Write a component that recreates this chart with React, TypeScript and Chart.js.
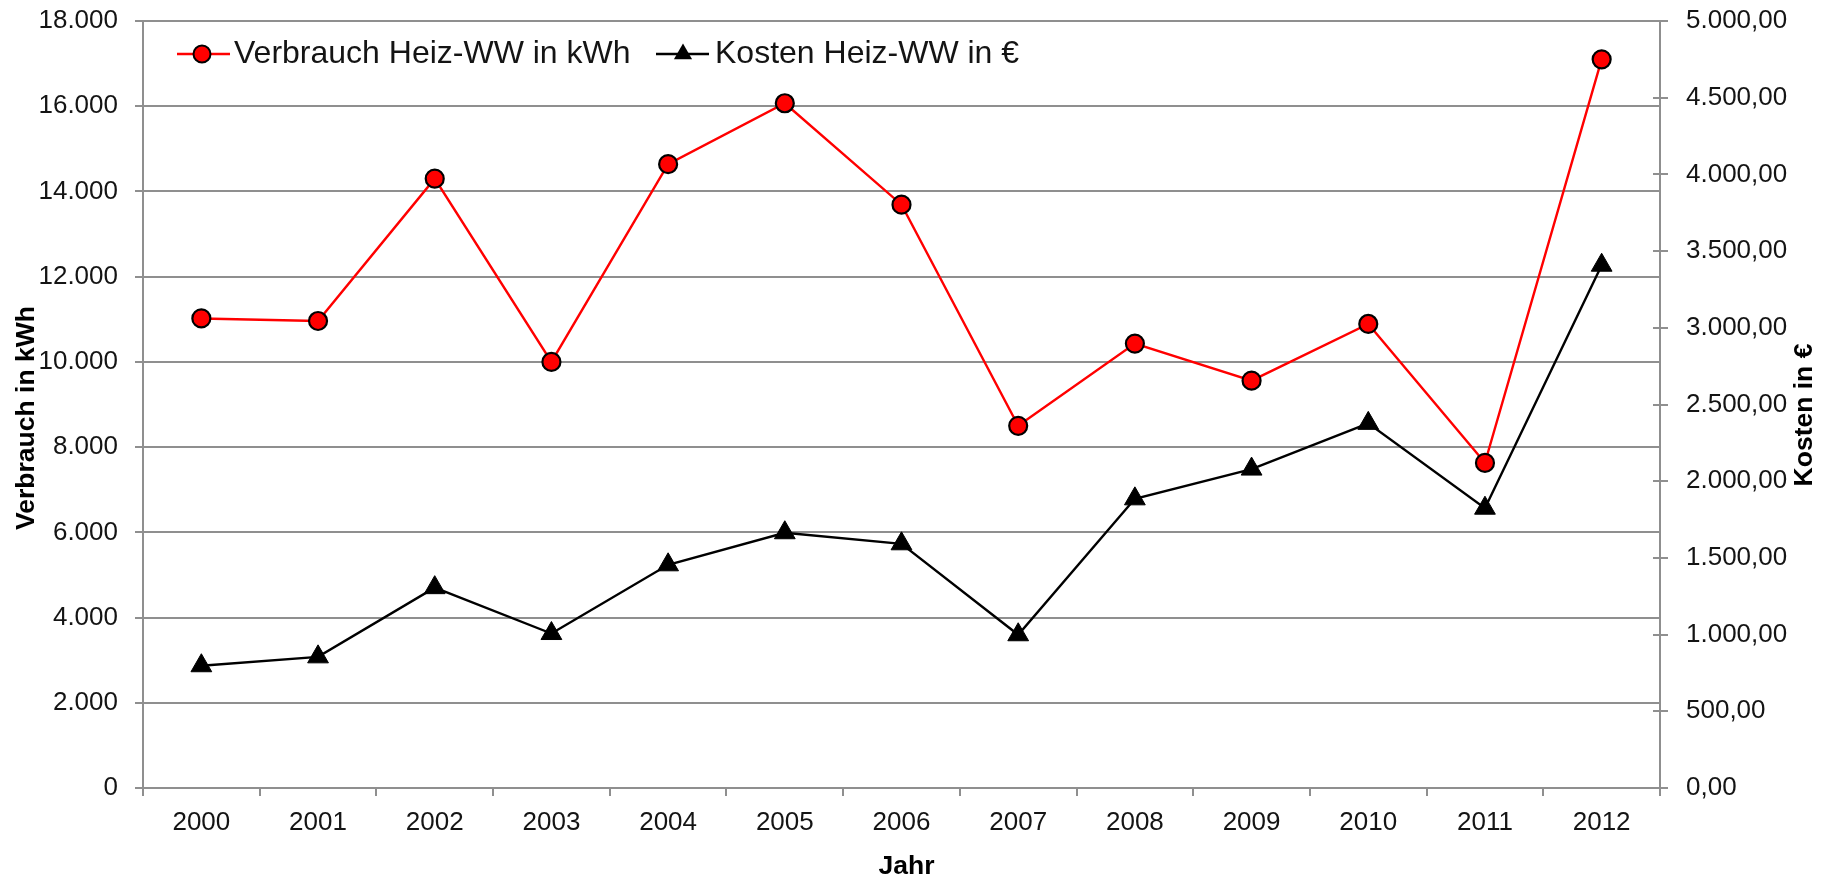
import React, { useEffect, useRef } from "react";
import { Chart, registerables } from "chart.js";

Chart.register(...registerables);

const years = ["2000", "2001", "2002", "2003", "2004", "2005", "2006", "2007", "2008", "2009", "2010", "2011", "2012"];
const verbrauchKWh = [11020, 10960, 14300, 10000, 14640, 16070, 13690, 8500, 10430, 9560, 10890, 7630, 17100];
const kostenEuro = [797, 855, 1306, 1007, 1455, 1664, 1592, 999, 1885, 2079, 2377, 1824, 3408];

const seriesLabels = ["Verbrauch Heiz-WW in kWh", "Kosten Heiz-WW in €"];
const axisTitles = { x: "Jahr", left: "Verbrauch in kWh", right: "Kosten in €" };

const FONT = "'Liberation Sans', Arial, sans-serif";
const GRID = "#8f8f8f";
const TEXT = "#141414";
const TICK_SIZE = 26;

const fmtLeft = (v: number) => new Intl.NumberFormat("de-DE", { maximumFractionDigits: 0 }).format(v);
const fmtRight = (v: number) =>
  new Intl.NumberFormat("de-DE", { minimumFractionDigits: 2, maximumFractionDigits: 2 }).format(v);

const overlayPlugin = {
  id: "overlay",
  afterDraw(chart: any) {
    const ctx = chart.ctx as CanvasRenderingContext2D;
    const area = chart.chartArea;
    const y1 = chart.scales.y1;
    ctx.save();
    // inner half of right-axis tick marks
    ctx.strokeStyle = GRID;
    ctx.lineWidth = 2;
    y1.ticks.forEach((t: any) => {
      const py = Math.round(y1.getPixelForValue(t.value));
      ctx.beginPath();
      ctx.moveTo(area.right - 7, py);
      ctx.lineTo(area.right, py);
      ctx.stroke();
    });

    // legend
    const ly = 54;
    ctx.font = `32px ${FONT}`;
    ctx.textBaseline = "middle";
    ctx.textAlign = "left";
    ctx.strokeStyle = "#ff0000";
    ctx.lineWidth = 2.4;
    ctx.beginPath();
    ctx.moveTo(177, ly);
    ctx.lineTo(230, ly);
    ctx.stroke();
    ctx.fillStyle = "#ff0000";
    ctx.strokeStyle = "#000";
    ctx.lineWidth = 2;
    ctx.beginPath();
    ctx.arc(202, ly, 8.5, 0, Math.PI * 2);
    ctx.fill();
    ctx.stroke();
    ctx.fillStyle = TEXT;
    ctx.fillText(seriesLabels[0], 234, ly);

    ctx.strokeStyle = "#000";
    ctx.lineWidth = 2.4;
    ctx.beginPath();
    ctx.moveTo(656, ly);
    ctx.lineTo(709, ly);
    ctx.stroke();
    ctx.fillStyle = "#000";
    const r = 10.5;
    ctx.beginPath();
    ctx.moveTo(683, ly - r);
    ctx.lineTo(683 + r * 0.866, ly + r * 0.5);
    ctx.lineTo(683 - r * 0.866, ly + r * 0.5);
    ctx.closePath();
    ctx.fill();
    ctx.fillStyle = TEXT;
    ctx.fillText(seriesLabels[1], 715, ly);

    // axis titles
    ctx.font = `bold 26.5px ${FONT}`;
    ctx.fillStyle = "#000";
    ctx.textAlign = "center";
    ctx.textBaseline = "middle";
    ctx.fillText(axisTitles.x, (area.left + area.right) / 2 + 5, 867);
    ctx.save();
    ctx.translate(27, 418);
    ctx.rotate(-Math.PI / 2);
    ctx.fillText(axisTitles.left, 0, 0);
    ctx.restore();
    ctx.save();
    ctx.translate(1805, 415);
    ctx.rotate(-Math.PI / 2);
    ctx.fillText(axisTitles.right, 0, 0);
    ctx.restore();
    ctx.restore();
  },
};

export default function App() {
  const ref = useRef<HTMLCanvasElement | null>(null);

  useEffect(() => {
    document.body.style.margin = "0";
    document.body.style.overflow = "hidden";
    const canvas = ref.current;
    if (!canvas) return;
    const chart = new Chart(canvas, {
      type: "line",
      data: {
        labels: years,
        datasets: [
          {
            label: seriesLabels[0],
            data: verbrauchKWh,
            yAxisID: "y",
            borderColor: "#ff0000",
            borderWidth: 2.4,
            pointStyle: "circle",
            pointRadius: 9,
            pointBackgroundColor: "#ff0000",
            pointBorderColor: "#000000",
            pointBorderWidth: 2.2,
            tension: 0,
          },
          {
            label: seriesLabels[1],
            data: kostenEuro,
            yAxisID: "y1",
            borderColor: "#000000",
            borderWidth: 2.4,
            pointStyle: "triangle",
            pointRadius: 12,
            pointBackgroundColor: "#000000",
            pointBorderColor: "#000000",
            pointBorderWidth: 1,
            tension: 0,
          },
        ],
      },
      options: {
        responsive: false,
        animation: false,
        layout: { padding: { top: 21, left: 0, right: 0, bottom: 0 } },
        plugins: {
          legend: { display: false },
          tooltip: { enabled: false },
          title: { display: false },
        },
        scales: {
          x: {
            type: "category",
            offset: true,
            grid: {
              offset: true,
              drawOnChartArea: false,
              drawTicks: true,
              tickLength: 8,
              color: GRID,
              lineWidth: 2,
            },
            border: { color: GRID, width: 2 },
            ticks: { font: { family: FONT, size: TICK_SIZE }, color: TEXT, padding: 11, maxRotation: 0 },
            afterFit: (s: any) => {
              s.height = 92;
              s.paddingLeft = 0;
              s.paddingRight = 0;
            },
          },
          y: {
            position: "left",
            min: 0,
            max: 18000,
            ticks: {
              stepSize: 2000,
              font: { family: FONT, size: TICK_SIZE },
              color: TEXT,
              padding: 17,
              callback: (v: any) => fmtLeft(Number(v)),
            },
            grid: { color: GRID, lineWidth: 2, tickLength: 8 },
            border: { color: GRID, width: 2 },
            afterFit: (s: any) => {
              s.width = 143;
              s.paddingTop = 0;
              s.paddingBottom = 0;
            },
          },
          y1: {
            position: "right",
            min: 0,
            max: 5000,
            ticks: {
              stepSize: 500,
              font: { family: FONT, size: TICK_SIZE },
              color: TEXT,
              padding: 18,
              callback: (v: any) => fmtRight(Number(v)),
            },
            grid: { drawOnChartArea: false, color: GRID, lineWidth: 2, tickLength: 8 },
            border: { color: GRID, width: 2 },
            afterFit: (s: any) => {
              s.width = 167;
              s.paddingTop = 0;
              s.paddingBottom = 0;
            },
          },
        },
      },
      plugins: [overlayPlugin],
    });
    return () => chart.destroy();
  }, []);

  return (
    <div style={{ width: 1827, height: 880, background: "#fff" }}>
      <canvas ref={ref} width={1827} height={880} style={{ display: "block" }} />
    </div>
  );
}
